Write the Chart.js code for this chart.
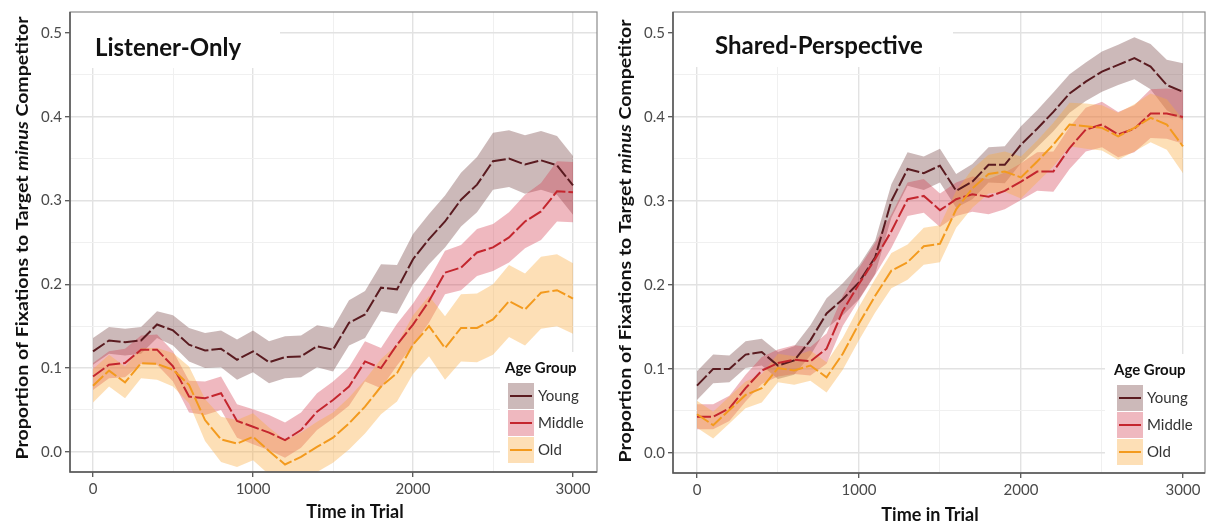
<!DOCTYPE html>
<html>
<head>
<meta charset="utf-8">
<script src="https://cdn.jsdelivr.net/npm/chart.js@4.4.1/dist/chart.umd.min.js"></script>
<style>
  body { margin: 0; background: #fff; }
  #wrap { position: relative; width: 1208px; height: 528px; }
  canvas { position: absolute; top: 0; }
</style>
</head>
<body>
<div id="wrap">
  <canvas id="listener" width="600" height="528" style="left:0"></canvas>
  <canvas id="shared" width="608" height="528" style="left:600px"></canvas>
</div>
<script>
// time bins (ms)
const times = [0, 100, 200, 300, 400, 500, 600, 700, 800, 900, 1000, 1100, 1200, 1300, 1400, 1500,
    1600, 1700, 1800, 1900, 2000, 2100, 2200, 2300, 2400, 2500, 2600, 2700, 2800, 2900, 3000];
const groups = ['Young', 'Middle', 'Old'];
const xTickLabels = [0, 1000, 2000, 3000];
const yTickLabels = [0.0, 0.1, 0.2, 0.3, 0.4, 0.5];

// Listener-Only panel
const listenerYoung = [0.120, 0.133, 0.131, 0.133, 0.152, 0.145, 0.128, 0.121, 0.123, 0.110, 0.120, 0.107, 0.113, 0.114, 0.126, 0.122,
    0.154, 0.164, 0.196, 0.194, 0.230, 0.254, 0.275, 0.301, 0.319, 0.347, 0.350, 0.343, 0.348, 0.342, 0.318];
const listenerMiddle = [0.090, 0.104, 0.106, 0.122, 0.122, 0.102, 0.066, 0.064, 0.070, 0.037, 0.030, 0.023, 0.014, 0.026, 0.048, 0.062,
    0.078, 0.108, 0.100, 0.128, 0.152, 0.180, 0.214, 0.220, 0.238, 0.244, 0.256, 0.275, 0.287, 0.311, 0.310];
const listenerOld = [0.079, 0.097, 0.083, 0.106, 0.105, 0.098, 0.080, 0.038, 0.015, 0.010, 0.018, 0.001, -0.015, -0.006, 0.006, 0.017,
    0.034, 0.054, 0.078, 0.094, 0.128, 0.150, 0.124, 0.148, 0.148, 0.158, 0.180, 0.170, 0.190, 0.193, 0.183];
const listenerYoungErr = [0.016, 0.016, 0.016, 0.016, 0.016, 0.018, 0.020, 0.021, 0.022, 0.024, 0.025, 0.025, 0.025, 0.025, 0.025, 0.026,
    0.027, 0.028, 0.028, 0.029, 0.030, 0.030, 0.031, 0.032, 0.033, 0.034, 0.034, 0.035, 0.035, 0.035, 0.035];
const listenerMiddleErr = [0.016, 0.016, 0.017, 0.017, 0.018, 0.018, 0.019, 0.020, 0.020, 0.020, 0.021, 0.021, 0.021, 0.021, 0.022, 0.022,
    0.023, 0.024, 0.024, 0.025, 0.025, 0.026, 0.026, 0.027, 0.028, 0.028, 0.030, 0.032, 0.034, 0.036, 0.036];
const listenerOldErr = [0.020, 0.019, 0.019, 0.018, 0.019, 0.020, 0.022, 0.025, 0.027, 0.028, 0.028, 0.028, 0.029, 0.029, 0.030, 0.030,
    0.031, 0.032, 0.033, 0.034, 0.035, 0.036, 0.038, 0.040, 0.041, 0.042, 0.043, 0.043, 0.043, 0.043, 0.042];

// Shared-Perspective panel
const sharedYoung = [0.080, 0.100, 0.100, 0.117, 0.120, 0.104, 0.110, 0.134, 0.166, 0.183, 0.203, 0.233, 0.300, 0.338, 0.333, 0.342,
    0.312, 0.323, 0.343, 0.343, 0.367, 0.386, 0.406, 0.428, 0.442, 0.454, 0.462, 0.470, 0.460, 0.438, 0.430];
const sharedMiddle = [0.043, 0.043, 0.053, 0.077, 0.098, 0.107, 0.111, 0.109, 0.124, 0.169, 0.201, 0.231, 0.264, 0.302, 0.306, 0.289,
    0.302, 0.308, 0.305, 0.312, 0.323, 0.335, 0.335, 0.363, 0.385, 0.391, 0.379, 0.386, 0.404, 0.404, 0.400];
const sharedOld = [0.046, 0.033, 0.051, 0.069, 0.077, 0.101, 0.098, 0.104, 0.090, 0.118, 0.154, 0.187, 0.217, 0.227, 0.246, 0.249,
    0.290, 0.315, 0.332, 0.335, 0.328, 0.347, 0.367, 0.391, 0.389, 0.387, 0.377, 0.387, 0.399, 0.391, 0.365];
const sharedYoungErr = [0.017, 0.017, 0.016, 0.016, 0.016, 0.016, 0.017, 0.018, 0.018, 0.019, 0.020, 0.020, 0.020, 0.020, 0.020, 0.020,
    0.020, 0.021, 0.021, 0.022, 0.022, 0.022, 0.023, 0.023, 0.023, 0.024, 0.024, 0.025, 0.027, 0.030, 0.034];
const sharedMiddleErr = [0.015, 0.015, 0.015, 0.016, 0.016, 0.016, 0.017, 0.017, 0.018, 0.018, 0.019, 0.019, 0.020, 0.020, 0.020, 0.020,
    0.020, 0.021, 0.021, 0.022, 0.022, 0.023, 0.024, 0.025, 0.026, 0.027, 0.027, 0.028, 0.029, 0.030, 0.032];
const sharedOldErr = [0.016, 0.016, 0.016, 0.016, 0.017, 0.017, 0.017, 0.018, 0.018, 0.019, 0.020, 0.020, 0.021, 0.021, 0.022, 0.022,
    0.022, 0.023, 0.023, 0.024, 0.025, 0.025, 0.026, 0.026, 0.027, 0.027, 0.028, 0.028, 0.029, 0.030, 0.032];

const lineColors = ['#5a1b20', '#c4262e', '#f39a1e'];
const bandColors = ['rgba(115, 62, 62, 0.36)', 'rgba(212, 58, 78, 0.36)', 'rgba(250, 172, 62, 0.38)'];

Chart.defaults.font.family = "Lato, 'Open Sans', sans-serif";

function toPoints(vals, err, sign) {
    return times.map((t, i) => ({ x: t, y: vals[i] + sign * err[i] }));
}

function buildDatasets(series, errs) {
    const lines = [];
    const bands = [];
    // index 0 is drawn last, so lines go first (Old on top)
    for (let g = groups.length - 1; g >= 0; g--) {
        lines.push({
            label: groups[g],
            data: toPoints(series[g], errs[g], 0),
            borderColor: lineColors[g],
            borderWidth: 2,
            borderDash: [14, 3],
            pointRadius: 0,
            fill: false,
            tension: 0,
        });
    }
    for (let g = groups.length - 1; g >= 0; g--) {
        bands.push({
            label: groups[g] + ' upper',
            data: toPoints(series[g], errs[g], 1),
            borderWidth: 0,
            pointRadius: 0,
            backgroundColor: bandColors[g],
            fill: '+1',
        });
        bands.push({
            label: groups[g] + ' lower',
            data: toPoints(series[g], errs[g], -1),
            borderWidth: 0,
            pointRadius: 0,
            fill: false,
        });
    }
    return lines.concat(bands);
}

// major ticks plus the minor half-steps between them (for the gridlines)
function withMinor(majors) {
    const half = (majors[1] - majors[0]) / 2;
    const out = [];
    majors.forEach((m, i) => {
        out.push({ value: m, major: true });
        if (i < majors.length - 1) out.push({ value: m + half, major: false });
    });
    return out;
}

function drawYTitle(ctx, cx, cy, len) {
    const parts = [
        ['Proportion of Fixations to Target ', 'bold 17px Lato'],
        ['minus', 'italic bold 17px Lato'],
        [' Competitor', 'bold 17px Lato'],
    ];
    let total = 0;
    parts.forEach(p => { ctx.font = p[1]; total += ctx.measureText(p[0]).width; });
    ctx.save();
    ctx.translate(cx, cy);
    ctx.rotate(-Math.PI / 2);
    ctx.scale(len / total, 1);
    ctx.fillStyle = '#111';
    ctx.textBaseline = 'middle';
    ctx.textAlign = 'left';
    let x = -total / 2;
    parts.forEach(p => {
        ctx.font = p[1];
        ctx.fillText(p[0], x, 0);
        x += ctx.measureText(p[0]).width;
    });
    ctx.restore();
}

// panel title box, border, legend and axis titles
const panelDecor = {
    id: 'panelDecor',
    beforeDatasetsDraw(chart, args, o) {
        const ctx = chart.ctx;
        ctx.save();
        ctx.fillStyle = '#fff';
        ctx.fillRect(o.titleBox[0], o.titleBox[1], o.titleBox[2] - o.titleBox[0], o.titleBox[3] - o.titleBox[1]);
        ctx.restore();
    },
    afterDraw(chart, args, o) {
        const ctx = chart.ctx;
        const a = chart.chartArea;
        ctx.save();

        // legend
        ctx.fillStyle = '#fff';
        ctx.fillRect(o.legend.box[0], o.legend.box[1], o.legend.box[2] - o.legend.box[0], o.legend.box[3] - o.legend.box[1]);
        ctx.fillStyle = '#111';
        ctx.font = 'bold 15px Lato';
        ctx.textBaseline = 'middle';
        ctx.textAlign = 'left';
        ctx.fillText('Age Group', o.legend.x - 3, o.legend.y);
        groups.forEach((name, g) => {
            const top = o.legend.y + 15 + g * 27;
            ctx.fillStyle = '#fff';
            ctx.fillRect(o.legend.x, top, 26, 26);
            ctx.fillStyle = bandColors[g];
            ctx.fillRect(o.legend.x, top, 26, 26);
            ctx.strokeStyle = lineColors[g];
            ctx.lineWidth = 2;
            ctx.beginPath();
            ctx.moveTo(o.legend.x + 2, top + 13);
            ctx.lineTo(o.legend.x + 24, top + 13);
            ctx.stroke();
            ctx.fillStyle = '#333';
            ctx.font = '15px Lato';
            ctx.fillText(name, o.legend.x + 30, top + 13);
        });

        // panel border
        ctx.strokeStyle = '#8a8a8a';
        ctx.lineWidth = 1.2;
        ctx.strokeRect(a.left, a.top, a.right - a.left, a.bottom - a.top);
        ctx.strokeStyle = '#555';
        ctx.lineWidth = 1.5;
        ctx.beginPath();
        ctx.moveTo(a.left, a.top);
        ctx.lineTo(a.left, a.bottom);
        ctx.lineTo(a.right, a.bottom);
        ctx.stroke();

        // panel title
        ctx.fillStyle = '#111';
        ctx.font = 'bold 24px Lato';
        ctx.textAlign = 'left';
        ctx.fillText(o.title, o.titleX, o.titleY);

        // x axis title
        ctx.font = 'bold 18px Lato';
        ctx.textAlign = 'center';
        ctx.fillText('Time in Trial', o.xTitle[0], o.xTitle[1]);
        ctx.restore();

        drawYTitle(ctx, o.yTitle[0], o.yTitle[1], o.yTitle[2]);
    }
};

const majorColor = (c) => c.tick && c.tick.major ? '#e2e2e2' : '#f0f0f0';
const majorWidth = (c) => c.tick && c.tick.major ? 1.4 : 1;
const majorTick = (c) => c.tick && c.tick.major ? '#555' : 'rgba(0,0,0,0)';

function makePanel(canvasId, series, errs, p) {
    const ctx = document.getElementById(canvasId);
    return new Chart(ctx, {
        type: 'line',
        data: { datasets: buildDatasets(series, errs) },
        options: {
            responsive: false,
            animation: false,
            devicePixelRatio: 1,
            layout: { padding: { left: 0, right: 3, top: p.top, bottom: 0 } },
            plugins: {
                legend: { display: false },
                tooltip: { enabled: false },
                panelDecor: p.decor,
            },
            scales: {
                x: {
                    type: 'linear',
                    min: p.xMin,
                    max: p.xMax,
                    afterBuildTicks: (s) => { s.ticks = withMinor(xTickLabels); },
                    afterFit: (s) => { s.height = p.xHeight; },
                    border: { display: false },
                    grid: { color: majorColor, lineWidth: majorWidth, tickColor: majorTick, tickLength: 5, tickWidth: 1.3 },
                    ticks: {
                        autoSkip: false,
                        maxRotation: 0,
                        padding: 3,
                        color: '#4a4a4a',
                        font: { size: 15 },
                        callback: (v, i, ticks) => ticks[i].major ? String(v) : '',
                    },
                },
                y: {
                    type: 'linear',
                    min: -0.024,
                    max: 0.525,
                    afterBuildTicks: (s) => { s.ticks = withMinor(yTickLabels); },
                    afterFit: (s) => { s.width = p.yWidth; },
                    border: { display: false },
                    grid: { color: majorColor, lineWidth: majorWidth, tickColor: majorTick, tickLength: 5, tickWidth: 1.3 },
                    ticks: {
                        autoSkip: false,
                        padding: 3,
                        color: '#4a4a4a',
                        font: { size: 15 },
                        callback: (v, i, ticks) => ticks[i].major ? v.toFixed(1) : '',
                    },
                },
            },
        },
        plugins: [panelDecor],
    });
}

makePanel('listener',
    [listenerYoung, listenerMiddle, listenerOld],
    [listenerYoungErr, listenerMiddleErr, listenerOldErr],
    {
        top: 12, xHeight: 56, yWidth: 70, xMin: -144, xMax: 3150,
        decor: {
            title: 'Listener-Only', titleX: 95, titleY: 48,
            titleBox: [70, 12, 280, 68],
            legend: { x: 508, y: 368, box: [500, 352, 597, 471] },
            xTitle: [355, 512],
            yTitle: [23, 238, 443],
        },
    });

makePanel('shared',
    [sharedYoung, sharedMiddle, sharedOld],
    [sharedYoungErr, sharedMiddleErr, sharedOldErr],
    {
        top: 10, xHeight: 55, yWidth: 73, xMin: -148, xMax: 3136,
        decor: {
            title: 'Shared-Perspective', titleX: 115, titleY: 46,
            titleBox: [73, 10, 353, 67],
            legend: { x: 517, y: 370, box: [505, 354, 605, 472] },
            xTitle: [330, 515],
            yTitle: [26, 241, 443],
        },
    });
</script>
</body>
</html>
